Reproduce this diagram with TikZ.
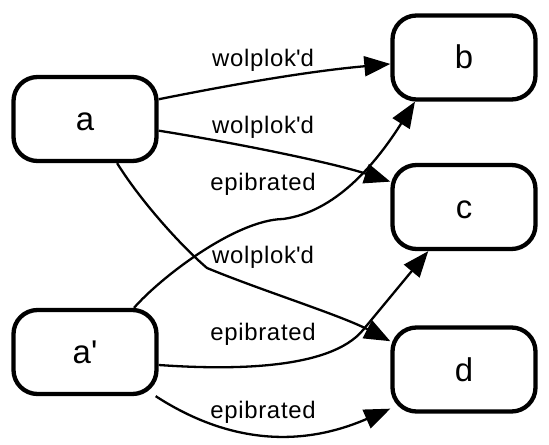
\documentclass[tikz,border=0pt]{standalone}
\usepackage{fontspec}
\setmainfont{Liberation Sans}
\usetikzlibrary{arrows.meta}
\begin{document}
\begin{tikzpicture}[x=1bp,y=-1bp,
  box/.style={draw, line width=4.3bp, rounded corners=24bp, minimum width=143bp, minimum height=84bp, inner sep=0pt, text height=23bp, text depth=0pt, font=\fontsize{33}{40}\selectfont},
  lbl/.style={inner sep=0pt, anchor=base, font=\fontsize{24}{29}\selectfont\addfontfeatures{LetterSpace=3}},
  edge/.style={line width=2.3bp, -{Triangle[length=26bp,width=20bp]}}]
\useasboundingbox (0,0) rectangle (549,445);
\node[box] (a) at (85,119) {a};
\node[box] (b) at (464,57.5) {b};
\node[box] (c) at (464,207) {c};
\node[box] (d) at (464,369.5) {d};
\node[box] (a2) at (85,352) {a\textquotesingle};
\draw[edge] (a.15) .. controls (215,88) and (300,72) .. (b.185);
\draw[edge] (a.-9) .. controls (230,142) and (330,162) .. (c.161);
\draw[edge] (a.-54) .. controls (140,200) and (180,245) .. (207,268) .. controls (260,290) and (340,315) .. (d.159);
\draw[edge] (a2.42) .. controls (160,278) and (235,220) .. (283,219) .. controls (335,212) and (375,165) .. (b.222);
\draw[edge] (a2.-10) .. controls (230,370) and (330,370) .. (363,330) -- (c.231);
\draw[edge] (a2.-32) .. controls (228,443) and (300,448) .. (d.208);
\node[lbl] (l1) at (263,66.7) {wolplok\textquotesingle d};
\node[lbl] (l2) at (263,133.3) {wolplok\textquotesingle d};
\node[lbl] (l3) at (263,263.3) {wolplok\textquotesingle d};
\node[lbl] (l4) at (263,190.7) {epibrated};
\node[lbl] (l5) at (263,340.7) {epibrated};
\node[lbl] (l6) at (263,418.3) {epibrated};
\end{tikzpicture}
\end{document}
